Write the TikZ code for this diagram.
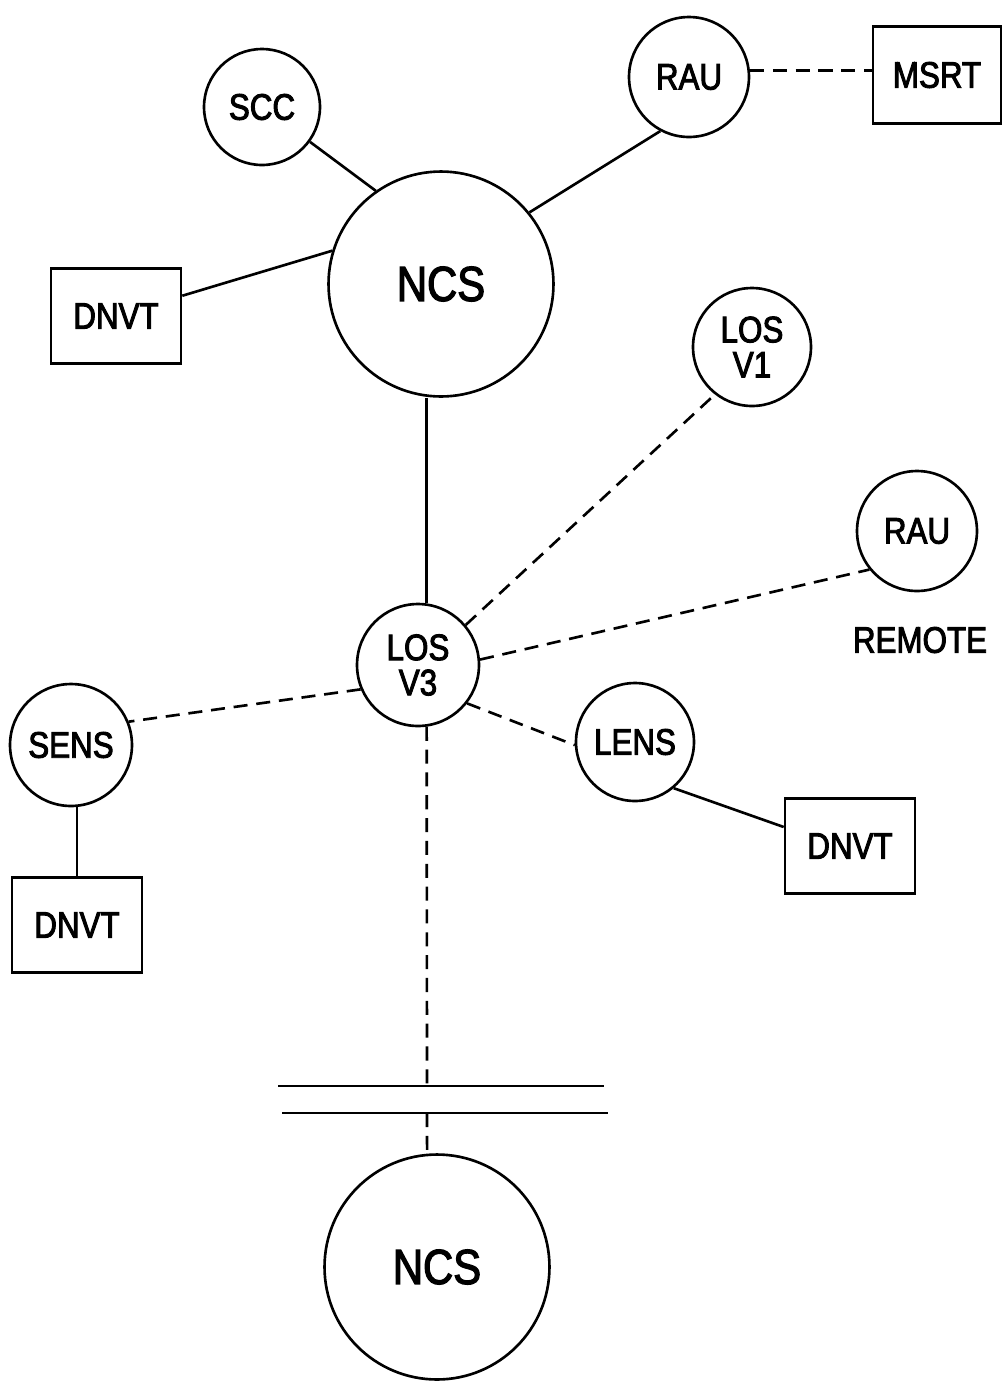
\documentclass[tikz,border=0pt]{standalone}
\usepackage{fontspec}
\newfontfamily\plotfont{Liberation Sans}[FakeStretch=0.85, FakeBold=2.5]
\begin{document}
\begin{tikzpicture}[x=0.02cm, y=-0.02cm, line width=1.5pt,
  unit/.style={draw, circle, inner sep=0pt, minimum size=2.4cm,
    align=center, font=\plotfont\fontsize{21}{20}\selectfont},
  hub/.style={unit, minimum size=4.5cm, font=\plotfont\fontsize{28}{30}\selectfont},
  term/.style={draw, rectangle, minimum width=2.6cm, minimum height=1.9cm,
    font=\plotfont\fontsize{21}{20}\selectfont},
  radio/.style={dash pattern=on 8pt off 5pt}]
  \useasboundingbox (0, 0) rectangle (1003, 1384);
  % upper site
  \node[hub] (ncs) at (441, 284) {NCS};
  \node[unit, minimum size=2.32cm] (scc) at (262, 107) {SCC};
  \node[unit] (rau) at (689, 77) {RAU};
  \node[term, minimum width=2.56cm, minimum height=1.95cm] (msrt) at (937, 75) {MSRT};
  \node[term] (dnvtA) at (116, 316) {DNVT};
  \draw (scc.-36) -- (ncs.125);
  \draw (rau.-118) -- (ncs.39);
  \draw (dnvtA.17) -- (ncs.163);
  \draw[radio] (rau.6) -- (rau.6 -| msrt.west);
  % line of sight radios
  \node[unit, minimum size=2.44cm] (losiii) at (418, 665) {LOS\\V3};
  \node[unit, minimum size=2.36cm] (losi) at (752, 347) {LOS\\V1};
  \node[unit] (rauR) at (917, 531) {RAU};
  \node[font=\plotfont\fontsize{21}{20}\selectfont] (remote) at (920, 640) {REMOTE};
  \draw (losiii.82) -- (losiii.82 |- ncs.south);
  \draw[radio] (losiii.40) -- (losi.232);
  \draw[radio] (losiii.5) -- (rauR.219);
  % extension nodes
  \node[unit, minimum size=2.44cm] (sens) at (71, 745) {SENS};
  \node[unit, minimum size=2.36cm] (lens) at (635, 742) {LENS};
  \node[term] (dnvtB) at (850, 846) {DNVT};
  \node[term] (dnvtC) at (77, 925) {DNVT};
  \draw[radio] (losiii.203) -- (sens.22);
  \draw[radio] (losiii.-38) -- (lens.183);
  \draw (lens.-50) -- (dnvtB.164);
  \draw (dnvtC.north) -- (dnvtC.north |- sens.south);
  % long haul link to the far NCS
  \node[hub] (ncsB) at (437, 1267) {NCS};
  \coordinate (cutA) at (427, 1086);
  \coordinate (cutB) at (427, 1113);
  \draw (278, 1086) -- (604, 1086);
  \draw (282, 1113) -- (608, 1113);
  \draw[radio] (losiii.-82) -- (cutA);
  \draw[radio] (cutB) -- (ncsB.95);
\end{tikzpicture}
\end{document}
